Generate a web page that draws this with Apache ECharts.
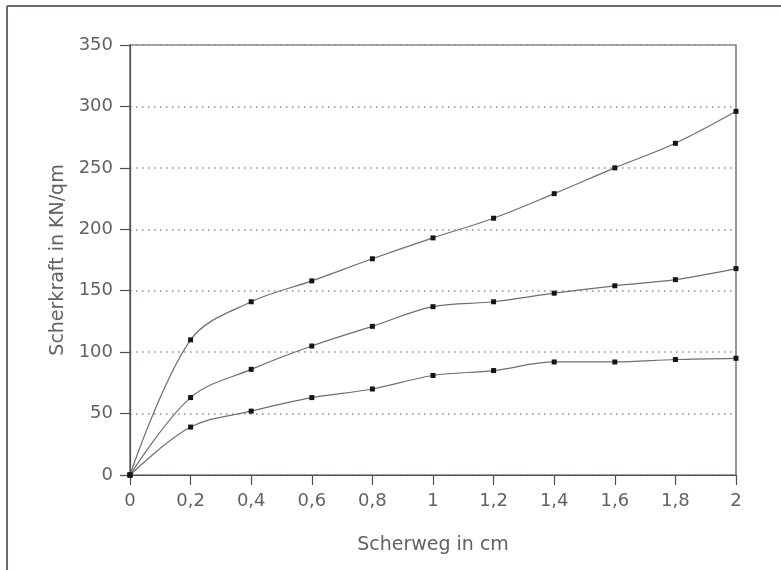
<!DOCTYPE html>
<html>
<head>
<meta charset="utf-8">
<script src="https://cdn.jsdelivr.net/npm/echarts@6/dist/echarts.min.js"></script>
<style>html,body{margin:0;padding:0;background:#fff}#c{width:781px;height:570px}</style>
</head>
<body>
<div id="c"></div>
<script>
const xValues = [0, 0.2, 0.4, 0.6, 0.8, 1.0, 1.2, 1.4, 1.6, 1.8, 2.0];
const seriesTop = [0, 110, 141, 158, 176, 193, 209, 229, 250, 270, 296];
const seriesMiddle = [0, 63, 86, 105, 121, 137, 141, 148, 154, 159, 168];
const seriesBottom = [0, 39, 52, 63, 70, 81, 85, 92, 92, 94, 95];

function pairs(vals) { return xValues.map((x, i) => [x, vals[i]]); }

const chart = echarts.init(document.getElementById('c'), null, {renderer: 'canvas'});
const axisColor = '#4e4e58';
const textColor = '#626262';
const font = "'DejaVu Sans', sans-serif";

function mkSeries(vals) {
  return {
    type: 'line',
    data: pairs(vals),
    smooth: 0.35,
    symbol: 'rect',
    symbolSize: 5,
    showAllSymbol: true,
    lineStyle: {color: '#6e6e74', width: 1.2},
    itemStyle: {color: '#151515'},
    animation: false
  };
}

chart.setOption({
  backgroundColor: '#fff',
  animation: false,
  grid: {left: 130, right: 45, top: 45, bottom: 95, show: true, borderColor: axisColor, borderWidth: 1.2, backgroundColor: 'transparent'},
  xAxis: {
    type: 'value', min: 0, max: 2, interval: 0.2,
    name: 'Scherweg in cm', nameLocation: 'middle', nameGap: 61,
    nameTextStyle: {fontFamily: font, fontSize: 19, color: textColor},
    axisLine: {show: true, lineStyle: {color: axisColor, width: 1.2}},
    axisTick: {show: true, length: 10, lineStyle: {color: axisColor, width: 1.2}},
    axisLabel: {margin: 17, fontFamily: font, fontSize: 18, color: textColor,
      formatter: v => String(Math.round(v * 10) / 10).replace('.', ',')},
    splitLine: {show: false}
  },
  yAxis: {
    type: 'value', min: 0, max: 350, interval: 50,
    name: 'Scherkraft in KN/qm', nameLocation: 'middle', nameGap: 58,
    nameTextStyle: {fontFamily: font, fontSize: 19, color: textColor},
    axisLine: {show: true, lineStyle: {color: axisColor, width: 1.2}},
    axisTick: {show: true, length: 10, lineStyle: {color: axisColor, width: 1.2}},
    axisLabel: {margin: 17, fontFamily: font, fontSize: 18, color: textColor},
    splitLine: {show: true, lineStyle: {color: '#9a8888', width: 1.5, type: [1.5, 4.5]}}
  },
  graphic: [
    {type: 'line', shape: {x1: 7, y1: 6, x2: 781, y2: 6}, style: {stroke: '#6a6a72', lineWidth: 2}, silent: true},
    {type: 'line', shape: {x1: 7, y1: 6, x2: 7, y2: 570}, style: {stroke: '#6a6a72', lineWidth: 2}, silent: true}
  ],
  series: [mkSeries(seriesTop), mkSeries(seriesMiddle), mkSeries(seriesBottom)]
});
</script>
</body>
</html>
